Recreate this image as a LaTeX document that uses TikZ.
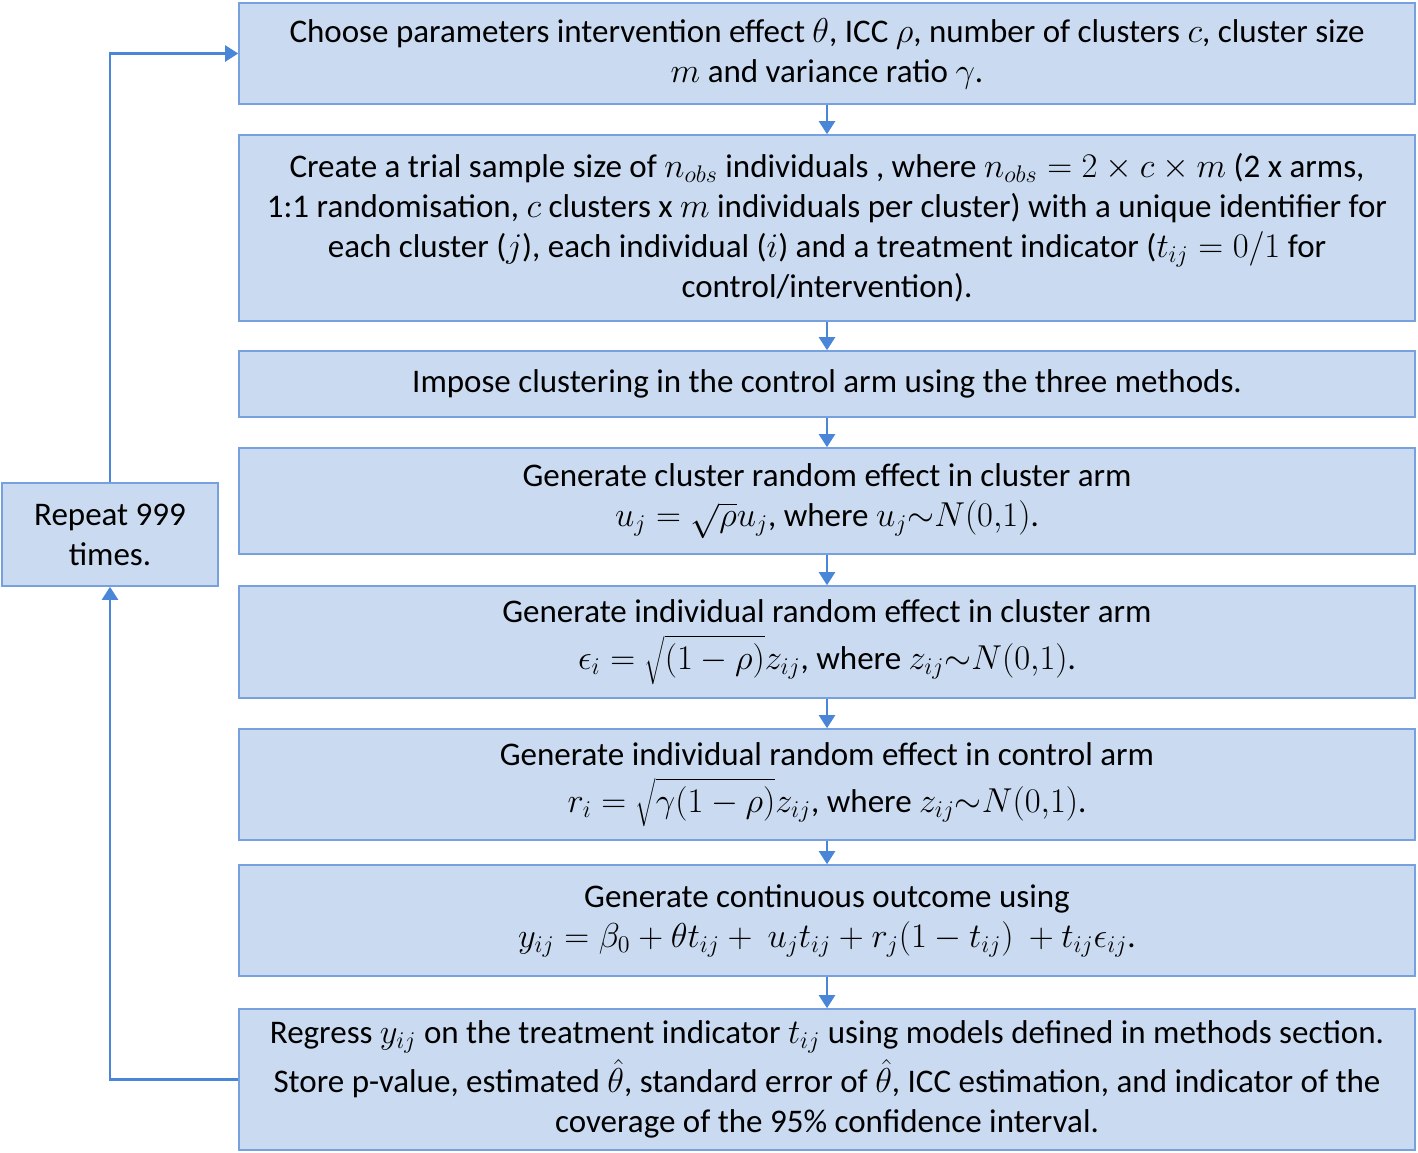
\documentclass[tikz,border=0pt]{standalone}
\usepackage{fontspec}
\setmainfont{Carlito}
\usetikzlibrary{arrows.meta}
\definecolor{boxfill}{RGB}{201,218,241}
\definecolor{boxline}{RGB}{118,160,222}
\definecolor{linkblue}{RGB}{74,134,216}

\begin{document}
\begin{tikzpicture}[x=0.5pt,y=-0.5pt,
    stage/.style={draw=boxline,fill=boxfill,line width=0.8pt,inner sep=0pt,
      minimum width=588pt,align=center,font=\fontsize{16.5}{20}\selectfont},
    link/.style={linkblue,line width=1.1pt,-{Triangle[width=8pt,length=6.5pt]}}]
    \useasboundingbox (0,0) rectangle (1418,1152);
    \node[stage,minimum height=50.5pt] (b1) at (827,53.5) {Choose parameters intervention effect $\theta$, ICC $\rho$, number of clusters $c$, cluster size\\ $m$ and variance ratio $\gamma$.};
    \node[stage,minimum height=93pt] (b2) at (827,228) {Create a trial sample size of $n_{obs}$ individuals , where $n_{obs}=2\times c\times m$ (2 x arms,\\ 1:1 randomisation, $c$ clusters x $m$ individuals per cluster) with a unique identifier for\\ each cluster ($j$), each individual ($i$) and a treatment indicator ($t_{ij}=0/1$ for\\ control/intervention).};
    \node[stage,minimum height=33pt] (b3) at (827,384) {Impose clustering in the control arm using the three methods.};
    \node[stage,minimum height=53pt] (b4) at (827,501) {Generate cluster random effect in cluster arm\\ $u_j=\sqrt{\rho}u_j$, where $u_j{\sim}N(0{,}1)$.};
    \node[stage,minimum height=56pt] (b5) at (827,642) {Generate individual random effect in cluster arm\\[3.5pt] $\epsilon_i=\sqrt{(1-\rho)}z_{ij}$, where $z_{ij}{\sim}N(0{,}1)$.};
    \node[stage,minimum height=55.5pt] (b6) at (827,784.5) {Generate individual random effect in control arm\\[3.5pt] $r_i=\sqrt{\gamma(1-\rho)}z_{ij}$, where $z_{ij}{\sim}N(0{,}1)$.};
    \node[stage,minimum height=55.5pt] (b7) at (827,920.5) {Generate continuous outcome using\\ $y_{ij}=\beta_0+\theta t_{ij}+\ u_jt_{ij}+r_j(1-t_{ij})\ +t_{ij}\epsilon_{ij}$.};
    \node[stage,minimum height=70.5pt] (b8) at (827,1079.5) {Regress $y_{ij}$ on the treatment indicator $t_{ij}$ using models defined in methods section.\\[2pt] Store p-value, estimated $\hat\theta$, standard error of $\hat\theta$, ICC estimation, and indicator of the\\ coverage of the 95\% confidence interval.};
    \node[stage,minimum width=108pt,minimum height=51.5pt] (rep) at (110,534.5) {Repeat 999\\ times.};
    \draw[link] (b1) -- (b2);
    \draw[link] (b2) -- (b3);
    \draw[link] (b3) -- (b4);
    \draw[link] (b4) -- (b5);
    \draw[link] (b5) -- (b6);
    \draw[link] (b6) -- (b7);
    \draw[link] (b7) -- (b8);
    \draw[link] (b8.west) -| (rep.south);
    \draw[link] (rep.north) |- (b1.west);
\end{tikzpicture}
\end{document}
